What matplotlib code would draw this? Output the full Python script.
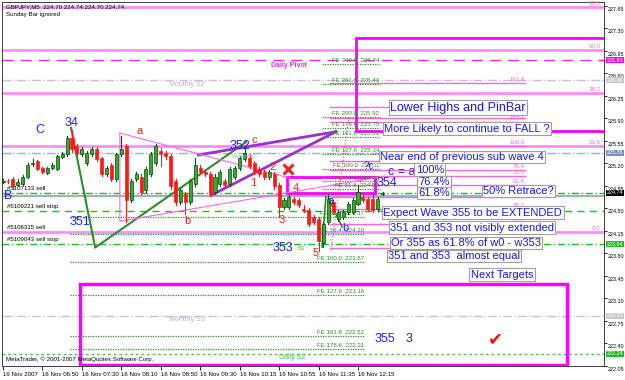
import matplotlib
matplotlib.use('Agg')
import matplotlib.pyplot as plt
import matplotlib.transforms as mtransforms
from matplotlib.patches import Rectangle

plt.rcParams['font.family'] = ['Liberation Sans', 'DejaVu Sans']

# ---------------- data ----------------
opens = [224.91, 224.93, 224.96, 224.86, 224.88, 224.99, 225.19, 225.23, 225.12, 225.05,
         225.13, 225.11, 225.30, 225.34, 225.60, 225.47, 225.34, 225.20, 225.34, 225.42,
         225.28, 225.03, 225.18, 224.95, 225.34, 225.47, 224.63, 224.95, 224.99, 224.79,
         225.03, 225.20, 225.39, 225.36, 225.31, 224.92, 224.60, 224.72, 224.60, 224.88,
         225.12, 225.07, 225.04, 224.76, 224.88, 224.92, 224.88, 224.99, 225.12, 225.26,
         225.28, 225.20, 225.11, 225.07, 224.99, 225.04, 224.87, 224.52, 224.52, 224.65,
         224.63, 224.49, 224.47, 224.36, 224.33, 223.96, 224.28, 224.60, 224.33, 224.36,
         224.44, 224.44, 224.57, 224.68, 224.65, 224.65, 224.49, 224.72]
highs = [224.96, 224.95, 224.99, 224.95, 225.02, 225.20, 225.26, 225.25, 225.14, 225.14,
         225.20, 225.33, 225.37, 225.63, 225.71, 225.50, 225.45, 225.39, 225.46, 225.45,
         225.30, 225.15, 225.20, 225.36, 225.63, 225.50, 224.95, 225.07, 225.03, 225.14,
         225.37, 225.50, 225.44, 225.39, 225.34, 224.95, 224.82, 224.76, 224.95, 225.28,
         225.18, 225.10, 225.07, 225.03, 225.10, 224.95, 225.14, 225.15, 225.31, 225.45,
         225.34, 225.23, 225.14, 225.10, 225.10, 225.07, 224.90, 224.66, 224.72, 224.68,
         224.66, 224.55, 224.50, 224.39, 224.36, 224.28, 224.73, 224.63, 224.47, 224.47,
         224.60, 224.66, 224.87, 224.72, 224.68, 224.70, 224.68, 224.76]
lows = [224.89, 224.90, 224.80, 224.84, 224.86, 224.97, 225.16, 225.09, 225.05, 225.03,
        225.11, 225.09, 225.28, 225.32, 225.38, 225.33, 225.31, 225.18, 225.32, 225.23,
        225.01, 225.00, 224.92, 224.93, 225.31, 224.28, 224.60, 224.92, 224.72, 224.76,
        225.00, 225.18, 225.15, 225.26, 224.80, 224.55, 224.57, 224.41, 224.57, 224.85,
        225.03, 225.00, 224.69, 224.72, 224.85, 224.84, 224.85, 224.96, 225.09, 225.23,
        225.12, 225.04, 225.00, 224.96, 224.96, 224.80, 224.36, 224.49, 224.49, 224.57,
        224.52, 224.44, 224.22, 224.25, 223.84, 223.90, 224.25, 224.41, 224.30, 224.33,
        224.41, 224.41, 224.55, 224.60, 224.46, 224.44, 224.46, 224.70]
closes = [224.93, 224.92, 224.84, 224.91, 224.99, 225.18, 225.21, 225.11, 225.07, 225.12,
          225.18, 225.31, 225.34, 225.60, 225.42, 225.36, 225.42, 225.36, 225.42, 225.26,
          225.04, 225.12, 224.95, 225.34, 225.42, 224.63, 224.92, 225.04, 224.76, 225.11,
          225.34, 225.47, 225.34, 225.31, 224.84, 224.60, 224.79, 224.60, 224.92, 225.18,
          225.07, 225.03, 224.72, 224.99, 225.07, 224.87, 225.11, 225.12, 225.28, 225.36,
          225.15, 225.07, 225.03, 224.99, 225.07, 224.84, 224.52, 224.63, 224.68, 224.60,
          224.55, 224.47, 224.25, 224.28, 223.99, 224.25, 224.65, 224.44, 224.44, 224.44,
          224.57, 224.63, 224.76, 224.63, 224.49, 224.47, 224.65, 224.74]

time_ticks = [0, 8, 16, 24, 32, 40, 48, 56, 64, 72]
time_labels = ['16 Nov 2007', '16 Nov 06:50', '16 Nov 07:30', '16 Nov 08:10', '16 Nov 08:50',
               '16 Nov 09:30', '16 Nov 10:15', '16 Nov 10:55', '16 Nov 11:35', '16 Nov 12:15']
price_ticks = [227.65, 227.30, 226.95, 226.60, 226.25, 225.90, 225.55, 225.20, 224.85,
               224.50, 224.15, 223.80, 223.45, 223.10, 222.75, 222.40, 222.05]

# Fibonacci retracement A (full width)
fibA_zero, fibA_hundred = 224.13, 229.79
fibA_levels = [0.0, 23.6, 38.2, 50.0, 61.8]
# Fibonacci retracement B
fibB_zero, fibB_hundred = 223.89, 225.47
fibB_levels = [0.0, 23.6, 38.2, 50.0, 61.8, 70.0, 76.4, 85.0, 100.0, 123.6, 127.6, 138.2, 161.8]

# Fibonacci expansions
fe_upper_pct = ['300.0', '261.8', '200.0', '178.6', '161.8', '127.6', '100.0', '76.4', '61.8', '423.6']
fe_upper_val = [226.74, 226.43, 225.92, 225.75, 225.61, 225.34, 225.11, 224.92, 224.80, 227.75]
fe_lower_pct = ['61.8', '76.4', '100.0', '127.6', '161.8', '178.6']
fe_lower_val = [224.37, 224.10, 223.67, 223.16, 222.52, 222.31]

# ---------------- figure ----------------
fig = plt.figure(figsize=(6.25, 3.8), dpi=100)
ax = fig.add_axes([2 / 625, 14 / 380, 602 / 625, 364 / 380])
ax.set_xlim(-0.2, 121.9)
ax.set_ylim(222.054, 227.706)
XR = 121.9
SMALL = 4.4

def hline(y, x0=-0.2, x1=XR, **kw):
    ax.plot([x0, x1], [y, y], **kw)

# Fib A
for lv in fibA_levels:
    y = fibA_zero + (fibA_hundred - fibA_zero) * lv / 100
    hline(y, color='#FF8CFF', lw=2.0, zorder=1)
    ax.text(121.2, y + 0.015, f'{lv:.1f}', color='#FF66DD', fontsize=SMALL, ha='right', va='bottom', zorder=6)
# Fib B
for lv in fibB_levels:
    y = fibB_zero + (fibB_hundred - fibB_zero) * lv / 100
    hline(y, 66.3, 105.9, color='#FF66DD', lw=1.0, zorder=1)
    ax.text(105.9, y + 0.015, f'{lv:.1f}', color='#FF66DD', fontsize=SMALL, ha='right', va='bottom', zorder=6)

# pivots / order lines
hline(226.80, color='#E030E0', lw=1.0, ls=(0, (8, 5)), zorder=2)
ax.text(58, 226.72, 'Daily Pivot', color='#E030E0', fontsize=5, ha='center', va='center', fontweight='bold')
hline(226.49, color='#C8C0D8', lw=1.0, ls='-.', zorder=2)
ax.text(41, 226.43, 'Monthly S2', color='#B8B0C8', fontsize=5, ha='right', va='center')
hline(225.36, color='#98B0D8', lw=1.0, ls='-.', zorder=2)
hline(224.74, color='#22BB22', lw=1.0, ls=(0, (5, 2, 1, 2)), zorder=2)
ax.text(0.8, 224.77, '#5107133 sell', fontsize=SMALL, ha='left', va='bottom', color='black')
hline(224.69, color='#A8ACC8', lw=1.6, zorder=2)
ax.text(0.2, 224.69, 'B', color='#2020FF', fontsize=9, ha='left', va='center')
hline(224.46, color='#22BB22', lw=1.0, ls=(0, (5, 4)), zorder=2)
ax.text(0.8, 224.49, '#5109221 sell stop', fontsize=SMALL, ha='left', va='bottom', color='black')
ax.text(0.8, 224.16, '#5106315 sell', fontsize=SMALL, ha='left', va='bottom', color='black')
hline(223.94, color='#22BB22', lw=1.0, ls=(0, (5, 2, 1, 2)), zorder=2)
ax.text(0.8, 223.97, '#5109043 sell stop', fontsize=SMALL, ha='left', va='bottom', color='black')
hline(222.83, color='#C8C0D8', lw=1.0, ls='-.', zorder=2)
ax.text(41, 222.77, 'Monthly S3', color='#B8B0C8', fontsize=5, ha='right', va='center')
hline(222.24, color='#44CC44', lw=1.0, ls=(0, (2, 2)), zorder=2)
ax.text(56, 222.18, 'Daily S2', color='#44BB44', fontsize=5, ha='left', va='center')

# FE lines
for p, v in zip(fe_upper_pct, fe_upper_val):
    hline(v, 64.7, 76.5, color='#2E8B2E', lw=0.9, ls=(0, (1, 1)), zorder=2)
    ax.text(76.3, v + 0.012, f'FE {p}  {v:.2f}', color='#2E8B2E', fontsize=SMALL, ha='right', va='bottom', zorder=6)
for p, v in zip(fe_lower_pct, fe_lower_val):
    hline(v, 13.6, 73.4, color='#2E8B2E', lw=0.9, ls=(0, (1, 1)), zorder=2)
    ax.text(73.2, v + 0.012, f'FE {p}  {v:.2f}', color='#2E8B2E', fontsize=SMALL, ha='right', va='bottom', zorder=6)

# rectangles
for (x0, y0, x1, y1, lw) in [(71.6, 225.70, 123, 227.15, 2.0), (57.6, 224.74, 75.5, 224.99, 2.0),
                             (15.6, 222.07, 114.4, 223.33, 2.5)]:
    ax.add_patch(Rectangle((x0, y0), x1 - x0, y1 - y0, fill=False, ec='#FF00FF', lw=lw, zorder=4, clip_on=True))

# trend lines
ax.plot([13.8, 18.7, 49.3], [225.75, 223.89, 225.53], color='#2E8B2E', lw=1.5, zorder=5)
ax.plot([39.6, 67.5], [225.33, 225.69], color='#9933CC', lw=2.0, zorder=5)
ax.plot([42.4, 67.5], [224.71, 225.69], color='#9933CC', lw=2.0, zorder=5)
ax.plot([23.7, 23.7, 77.5], [225.67, 224.30, 225.00], color='#FF66FF', lw=0.8, zorder=5)
ax.plot([23.7, 58.2], [225.67, 224.97], color='#FF66FF', lw=0.8, zorder=5)
ax.plot([64.7, 65.5], [223.90, 224.68], color='#2E8B2E', lw=1.2, zorder=5)
ax.plot([66.0, 68.8], [224.66, 224.21], color='#2E8B2E', lw=1.2, zorder=5)
ax.plot([66.5, 70.2], [223.85, 225.95], color='#FF4444', lw=0.8, ls=(0, (1, 2)), zorder=5)

# candles
for i, (o, h, l, c) in enumerate(zip(opens, highs, lows, closes)):
    up = c >= o
    col = '#33AA33' if up else '#FF1A1A'
    ec = '#0A4A0A' if up else '#FF1A1A'
    ax.plot([i, i], [l, h], color=ec, lw=0.8, zorder=7)
    ax.bar(i, max(abs(c - o), 0.012), bottom=min(o, c), width=0.62, color=col, edgecolor=ec, lw=0.5, zorder=8)

# wave labels
def lab(x, y, s, c, fs=8.5, **kw):
    ax.text(x, y, s, color=c, fontsize=fs, ha='center', va='center', zorder=9, **kw)

BLUE, RED = '#2222EE', '#EE2222'
lab(7.5, 225.72, 'C', BLUE, 9)
lab(13.8, 225.82, '34', BLUE, 9)
lab(27.8, 225.70, 'a', RED, 8)
lab(37.5, 224.30, 'b', RED, 8)
lab(48.1, 225.47, '352', BLUE, 9)
lab(50.9, 225.56, 'c', RED, 8)
lab(50.7, 224.89, '1', RED, 8)
lab(54.6, 225.14, '2', RED, 8)
ax.plot(57.8, 225.11, marker='x', color=RED, ms=7, mew=2.2, zorder=9)
lab(56.6, 224.32, '3', RED, 8)
lab(59.4, 224.82, '4', RED, 8)
lab(63.5, 223.81, '5', RED, 8)
lab(56.8, 223.89, '353', BLUE, 9)
lab(60.4, 223.87, '51', '#44AA44', 4.5)
lab(15.6, 224.29, '351', BLUE, 9)
lab(66.5, 224.62, 'a', BLUE, 8)
lab(69.4, 224.20, 'b', BLUE, 8)
lab(74.2, 225.16, '?c', BLUE, 7)
lab(80.8, 225.07, 'c = a', BLUE, 9)
lab(77.8, 224.89, '354', BLUE, 9)
lab(77.5, 222.47, '355', BLUE, 9)
lab(82.4, 222.47, '3', BLUE, 9)
ax.text(99.8, 222.47, '\u2714', color='#EE1111', fontsize=13, ha='center', va='center',
        family='DejaVu Sans', zorder=9)
lab(48.9, 225.30, 'Wave 352', '#A0A0B0', 3.8)

# boxed comments
boxes = [(92.3, 226.06, 'Lower Highs and PinBar', 9),
         (94.1, 225.74, 'More Likely to continue to FALL ?', 8),
         (93.1, 225.30, 'Near end of previous sub wave 4', 8),
         (86.6, 225.10, '100%', 8),
         (87.4, 224.91, '76.4%', 8),
         (87.4, 224.74, '61.8%', 8),
         (104.5, 224.77, '50% Retrace?', 8),
         (95.3, 224.43, 'Expect Wave 355 to be EXTENDED', 8),
         (95.1, 224.20, '351 and 353 not visibly extended', 8),
         (93.9, 223.96, 'Or 355 as 61.8% of w0 - w353', 8),
         (91.5, 223.76, '351 and 353  almost equal', 8),
         (101.2, 223.47, 'Next Targets', 8)]
for x, y, s, fs in boxes:
    ax.text(x, y, s, color='#1818F0', fontsize=fs, ha='center', va='center', zorder=10,
            bbox=dict(boxstyle='square,pad=0.12', fc='white', ec='#A0A0A0', lw=0.8))

# top-left info
ax.text(0.006, 0.995, 'GBPJPY,M5  224.70 224.74 224.70 224.74', transform=ax.transAxes,
        fontsize=SMALL, ha='left', va='top', zorder=10)
ax.text(0.006, 0.972, 'Sunday Bar ignored', transform=ax.transAxes, fontsize=SMALL, ha='left', va='top', zorder=10)
ax.text(0.006, 0.012, 'MetaTrader, \u00a9 2001-2007 MetaQuotes Software Corp.', transform=ax.transAxes,
        fontsize=SMALL, ha='left', va='bottom', zorder=10)

# axes formatting
ax.yaxis.tick_right()
ax.set_yticks(price_ticks)
ax.set_yticklabels([f'{p:.2f}' for p in price_ticks])
ax.tick_params(axis='y', labelsize=3.9, length=2, width=0.6, pad=0.6, direction='out')
off = mtransforms.ScaledTranslation(0, -0.03, fig.dpi_scale_trans)
for t in ax.get_yticklabels():
    t.set_transform(t.get_transform() + off)
ax.set_xticks(time_ticks)
ax.set_xticklabels(time_labels, ha='left')
ax.tick_params(axis='x', labelsize=4.4, length=3, width=0.6, pad=1.5, direction='out')
for sp in ax.spines.values():
    sp.set_linewidth(0.7)
    sp.set_color('#404040')

# right-axis value tags
trans = mtransforms.blended_transform_factory(ax.transAxes, ax.transData)
tags = [(226.80, '226.80', '#FF00FF', 'white'),
        (226.49, '226.49', '#C8C8C8', 'white'),
        (225.36, '225.36', '#7890B8', 'white'),
        (224.74, '224.74', 'black', 'white'),
        (223.94, '223.94', '#22BB22', 'white'),
        (222.83, '222.83', '#C8C8C8', 'white'),
        (222.24, '222.24', '#22BB22', 'white')]
for y, s, bg, fg in tags:
    ax.text(1.005, y, s, transform=trans, fontsize=3.9, color=fg, ha='left', va='center', clip_on=False,
            zorder=11, bbox=dict(boxstyle='square,pad=0.1', fc=bg, ec=bg, lw=0))

fig.savefig('out.png', dpi=100)
